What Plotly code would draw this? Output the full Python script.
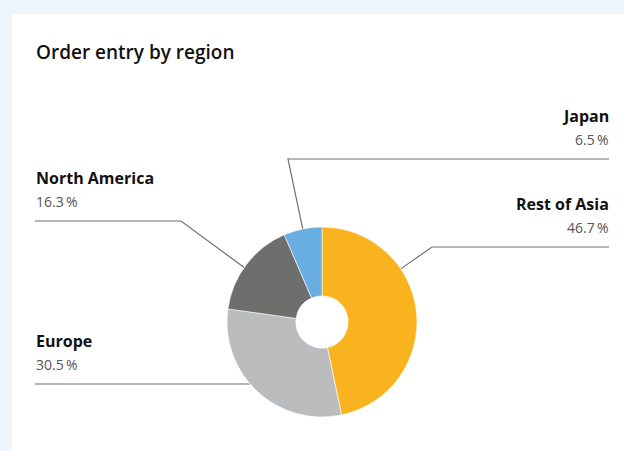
import math
import plotly.graph_objects as go

# Order entry share by region (percent)
regions = ["Rest of Asia", "Europe", "North America", "Japan"]
shares = [46.7, 30.5, 16.3, 6.5]
colors = ["#f9b31e", "#bbbcbe", "#6e6e6c", "#68aee1"]

W, H = 624, 451
CX, CY, R = 322, 322, 95          # donut centre and outer radius in px
HOLE = 0.275

# Label blocks: side, y of the leader's horizontal run, elbow x, and the
# angle (degrees clockwise from 12 o'clock) where the leader meets the ring
labels = {
    "Japan":         dict(side="right", line_y=159, elbow_x=288, angle=348.3),
    "Rest of Asia":  dict(side="right", line_y=247, elbow_x=432, angle=56.0),
    "North America": dict(side="left",  line_y=221, elbow_x=181, angle=305.0),
    "Europe":        dict(side="left",  line_y=384, elbow_x=None, angle=229.3),
}
LEFT_X, RIGHT_X = 35, 609


def px(x):
    return x / W


def py(y):
    return 1 - y / H


fig = go.Figure(
    go.Pie(
        labels=regions,
        values=shares,
        sort=False,
        direction="clockwise",
        rotation=0,
        hole=HOLE,
        marker=dict(colors=colors, line=dict(color="white", width=0.6)),
        textinfo="none",
        hoverinfo="label+percent",
        showlegend=False,
        domain=dict(x=[px(CX - R), px(CX + R)], y=[py(CY + R), py(CY - R)]),
    )
)

shapes = [
    # white card on the light blue page
    dict(type="rect", xref="paper", yref="paper", x0=px(12), x1=1.0, y0=0, y1=py(14),
         fillcolor="white", line=dict(width=0), layer="below"),
]
annotations = [
    dict(text="Order entry by region", xref="paper", yref="paper", x=px(LEFT_X - 1.5), y=py(52),
         xanchor="left", yanchor="middle", showarrow=False,
         font=dict(family="Open Sans", size=19, color="#111111", weight=600)),
]

for name, share in zip(regions, shares):
    cfg = labels[name]
    a = math.radians(cfg["angle"])
    ex, ey = CX + R * math.sin(a), CY - R * math.cos(a)
    ly = cfg["line_y"]
    if cfg["side"] == "left":
        tx, anchor, nudge = LEFT_X, "left", -1.5
    else:
        tx, anchor, nudge = RIGHT_X, "right", 1.5
    if cfg["elbow_x"] is None:
        path = f"M {px(tx)},{py(ly)} L {px(ex)},{py(ly)}"
    else:
        path = (f"M {px(tx)},{py(ly)} L {px(cfg['elbow_x'])},{py(ly)} "
                f"L {px(ex)},{py(ey)}")
    shapes.append(dict(type="path", xref="paper", yref="paper", path=path,
                       line=dict(color="#6f6f6f", width=1.2), layer="below"))
    annotations.append(dict(text=f"<b>{name}</b>", xref="paper", yref="paper",
                            x=px(tx + nudge), y=py(ly - 43), xanchor=anchor, yanchor="middle",
                            showarrow=False,
                            font=dict(family="Open Sans", size=16, color="#111111")))
    annotations.append(dict(text=f"{share:.1f}\u2009%", xref="paper", yref="paper",
                            x=px(tx + nudge), y=py(ly - 20), xanchor=anchor, yanchor="middle",
                            showarrow=False,
                            font=dict(family="Open Sans", size=14, color="#555555")))

fig.update_layout(
    width=W, height=H,
    margin=dict(l=0, r=0, t=0, b=0),
    paper_bgcolor="#eef4fc",
    plot_bgcolor="white",
    shapes=shapes,
    annotations=annotations,
)

fig.write_html("out.html")
